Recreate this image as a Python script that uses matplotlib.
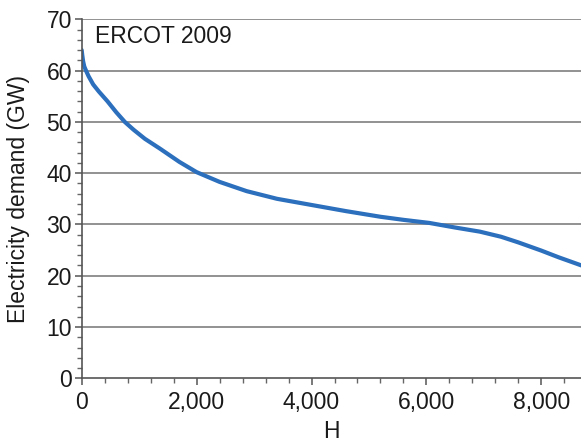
import matplotlib
matplotlib.use("Agg")
import matplotlib.pyplot as plt
from matplotlib.ticker import MultipleLocator, FuncFormatter

# Load duration curve, ERCOT 2009
hours = [0, 10, 25, 45, 75, 120, 200, 300, 450, 600, 750, 900, 1100, 1360,
         1700, 2000, 2400, 2870, 3400, 4000, 4600, 5200, 5600, 6050, 6500,
         6930, 7300, 7600, 8000, 8300, 8700]
demand_gw = [64.0, 63.0, 61.8, 60.8, 60.0, 58.9, 57.3, 55.9, 54.0, 51.9,
             50.0, 48.5, 46.7, 44.8, 42.2, 40.2, 38.3, 36.5, 35.0, 33.8,
             32.6, 31.5, 30.9, 30.3, 29.4, 28.6, 27.6, 26.5, 24.9, 23.6,
             22.0]

x_ticks = [0, 2000, 4000, 6000, 8000]
y_ticks = [0, 10, 20, 30, 40, 50, 60, 70]
title_text = "ERCOT 2009"
x_label = "H"
y_label = "Electricity demand (GW)"

plt.rcParams["font.family"] = ["Liberation Sans", "DejaVu Sans"]
FS = 16.5

fig = plt.figure(figsize=(5.81, 4.43), dpi=100)
ax = fig.add_axes([0.1406, 0.146, 0.8594, 0.8104])

ax.plot(hours, demand_gw, color="#2b6fbd", lw=3.0,
        solid_capstyle="round", solid_joinstyle="round")

ax.set_xlim(0, 8690)
ax.set_ylim(0, 70)
ax.set_xticks(x_ticks)
ax.set_yticks(y_ticks)
ax.xaxis.set_minor_locator(MultipleLocator(400))
ax.yaxis.set_minor_locator(MultipleLocator(2))
ax.xaxis.set_major_formatter(FuncFormatter(lambda v, p: f"{int(v):,}"))

for v in y_ticks[1:]:
    ax.axhline(v, color="#7f7f7f", lw=1.2, zorder=0)

for s in ("top", "right"):
    ax.spines[s].set_visible(False)
for s in ("left", "bottom"):
    ax.spines[s].set_color("#555555")
    ax.spines[s].set_linewidth(1.2)

ax.tick_params(axis="both", which="major", length=5, width=1.1,
               color="#555555", labelsize=FS, labelcolor="#1a1a1a")
ax.tick_params(axis="both", which="minor", length=3.5, width=1.0,
               color="#666666")
ax.tick_params(axis="x", pad=4)
ax.tick_params(axis="y", pad=2)

ax.text(0.027, 0.951, title_text, transform=ax.transAxes, fontsize=FS,
        ha="left", va="center", color="#1a1a1a")
ax.set_xlabel(x_label, fontsize=FS, color="#1a1a1a", labelpad=4.5)
ax.set_ylabel(y_label, fontsize=FS, color="#1a1a1a", labelpad=12)

fig.savefig("out.png", dpi=100)
